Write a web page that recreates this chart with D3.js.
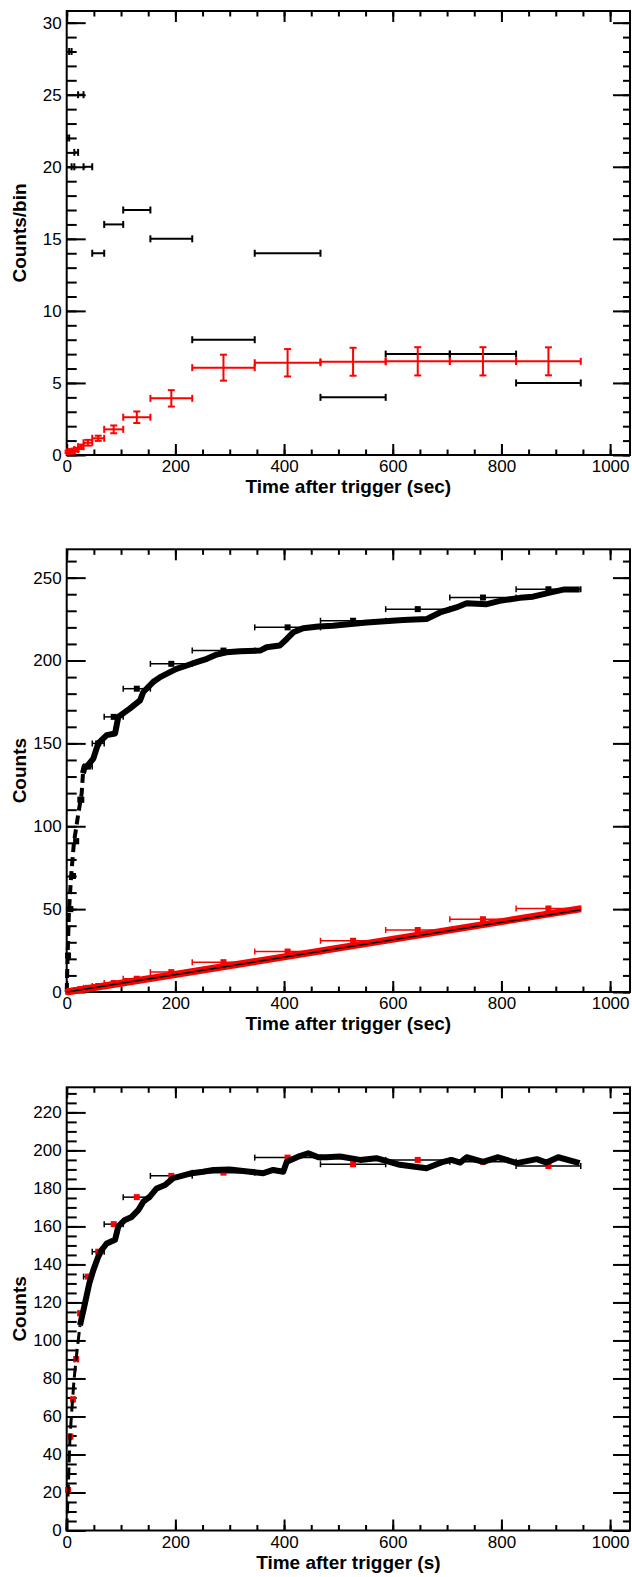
<!DOCTYPE html>
<html>
<head>
<meta charset="utf-8">
<script src="https://cdn.jsdelivr.net/npm/d3@7"></script>
<style>
  html, body { margin: 0; padding: 0; background: #fff; }
  svg { display: block; }
  text { font-family: "Liberation Sans", Arial, Helvetica, sans-serif; }
</style>
</head>
<body>
<svg id="chart" width="632" height="1577"></svg>
<script>
// ---------------- DATA ----------------
// time bin edges (s after trigger)
const binEdges = [0.5, 4.5, 9, 14, 21, 31, 47, 69, 104, 154, 231, 346, 467, 587, 705, 827, 946];
// panel 1: counts per bin
const srcCounts = [22, 28, 20, 21, 25, 20, 14, 16, 17, 15, 8, 14, 4, 7, 7, 5];
const bkgCounts = [0.22, 0.24, 0.27, 0.38, 0.57, 0.85, 1.16, 1.78, 2.62, 3.93, 6.06, 6.4, 6.47, 6.5, 6.5, 6.5];
const bkgErrors = [0.08, 0.09, 0.1, 0.12, 0.15, 0.2, 0.18, 0.27, 0.4, 0.57, 0.9, 0.95, 0.97, 0.98, 0.98, 0.97];
// panel 2: cumulative counts at bin centres
const srcCumulative = [22, 50, 70, 91, 116, 136, 150, 166, 183, 198, 206, 220, 224, 231, 238, 243];
const bkgCumulative = [0.2, 0.5, 0.7, 1.1, 1.6, 2.5, 3.6, 5.4, 8, 12, 18, 24.4, 30.9, 37.4, 43.9, 50.4];
// panel 2: cumulative source curve
const srcCurveT = [0, 1.8, 4.2, 8, 13.4, 21.4, 27.6, 30, 33, 37, 49, 58, 73.6, 89, 95, 116, 135, 141, 159, 172, 190, 202, 221, 239, 258, 276, 294, 319, 356, 368, 392, 405, 417, 435, 463, 490, 552, 619, 662, 687, 717, 736, 773, 797, 834, 858, 889, 914, 944];
const srcCurveV = [0, 23, 49, 69.5, 90.5, 107.6, 120, 132, 136, 136, 140.8, 150, 155, 156, 166, 171, 176, 181, 187, 190, 193, 195, 197, 199, 201, 203.6, 205, 205.6, 206, 208, 209, 213, 217, 219.5, 220.5, 221, 223, 224.5, 225, 229, 232, 234.5, 234, 236, 237.8, 238.5, 241, 242.8, 242.8];
// panel 2: cumulative background and linear fit
const bkgLineT = [0, 946];
const bkgLineV = [0, 50.2];
const fitLineV = [0, 49.6];
// panel 3: background-subtracted cumulative counts
const netCumulative = [21.3, 49.4, 69, 90.1, 114.3, 133.6, 146.7, 161.2, 175.4, 186.6, 188.3, 196.2, 192.7, 195, 194, 191.8];
const netCurveT = [0, 3, 6, 9, 13.4, 18.4, 24.5, 33.7, 41.6, 49, 58, 64.3, 73.6, 89, 95, 107, 119.6, 132, 141, 153, 165.6, 181, 196, 211.6, 230, 251, 270, 300, 337, 362, 380, 398.5, 405, 429, 444.5, 463, 478, 503, 540, 570, 613, 662, 693, 708, 724, 736, 766.5, 794, 828, 865, 883, 904.5, 944];
const netCurveV = [0, 23, 49, 61.7, 79, 93, 108, 119.6, 130, 137, 144, 147.6, 151, 153, 160, 163.4, 165, 168.7, 173, 175.7, 180, 181.8, 185.4, 186.6, 188, 188.8, 189.7, 190, 188.8, 188, 189.7, 188.8, 194, 197, 198.5, 196.4, 196.4, 196.8, 195, 195.9, 192.4, 190.6, 194, 195, 193.6, 196.4, 194, 196.4, 193.3, 195.4, 193.6, 196.4, 193.3];
// axis ticks
const xMajorTicks = [0, 200, 400, 600, 800, 1000];
const xMinorTicks = d3.range(0, 1001, 50);
const yMajorTicks1 = [0, 5, 10, 15, 20, 25, 30];
const yMinorTicks1 = d3.range(0, 31, 1);
const yMajorTicks2 = [0, 50, 100, 150, 200, 250];
const yMinorTicks2 = d3.range(0, 261, 10);
const yMajorTicks3 = [0, 20, 40, 60, 80, 100, 120, 140, 160, 180, 200, 220];
const yMinorTicks3 = d3.range(0, 231, 5);
const yTitles = ["Counts/bin", "Counts", "Counts"];
const xTitles = ["Time after trigger (sec)", "Time after trigger (sec)", "Time after trigger (s)"];

// ---------------- LAYOUT ----------------
const svg = d3.select("#chart");
const L = 66.7, R = 630;
const panels = [
  {top: 11, bottom: 455, ymax: 30.81, major: yMajorTicks1, minor: yMinorTicks1},
  {top: 549.3, bottom: 992, ymax: 267.1, major: yMajorTicks2, minor: yMinorTicks2},
  {top: 1087.3, bottom: 1530.5, ymax: 233.2, major: yMajorTicks3, minor: yMinorTicks3}
];
const x = d3.scaleLinear().domain([0, 1036.6]).range([L, R]);
const RED = "#ff0000";

function styleAxis(g) {
  g.select(".domain").remove();
  g.selectAll(".tick line").attr("stroke", "#000").attr("stroke-width", 2);
  g.selectAll("text").attr("font-size", 17).attr("fill", "#000")
    .attr("font-family", '"Liberation Sans", Arial, Helvetica, sans-serif');
}

panels.forEach((p, i) => {
  p.y = d3.scaleLinear().domain([0, p.ymax]).range([p.bottom, p.top]);
  const g = svg.append("g");
  p.g = g;
  const fmt = d3.format("d");
  // left
  g.append("g").attr("transform", `translate(${L},0)`)
    .call(d3.axisLeft(p.y).tickValues(p.minor).tickSize(-10).tickFormat("")).call(styleAxis);
  g.append("g").attr("transform", `translate(${L},0)`)
    .call(d3.axisLeft(p.y).tickValues(p.major).tickSize(-19).tickPadding(5).tickFormat(fmt)).call(styleAxis);
  // right
  g.append("g").attr("transform", `translate(${R},0)`)
    .call(d3.axisRight(p.y).tickValues(p.minor).tickSize(-7).tickFormat("")).call(styleAxis);
  g.append("g").attr("transform", `translate(${R},0)`)
    .call(d3.axisRight(p.y).tickValues(p.major).tickSize(-17).tickFormat("")).call(styleAxis);
  // bottom
  g.append("g").attr("transform", `translate(0,${p.bottom})`)
    .call(d3.axisBottom(x).tickValues(xMinorTicks).tickSize(-5.5).tickFormat("")).call(styleAxis);
  g.append("g").attr("transform", `translate(0,${p.bottom})`)
    .call(d3.axisBottom(x).tickValues(xMajorTicks).tickSize(-11).tickPadding(5).tickFormat(fmt)).call(styleAxis);
  // top
  g.append("g").attr("transform", `translate(0,${p.top})`)
    .call(d3.axisTop(x).tickValues(xMinorTicks).tickSize(-5.5).tickFormat("")).call(styleAxis);
  g.append("g").attr("transform", `translate(0,${p.top})`)
    .call(d3.axisTop(x).tickValues(xMajorTicks).tickSize(-11).tickFormat("")).call(styleAxis);
  // frame
  g.append("rect").attr("x", L).attr("y", p.top).attr("width", R - L).attr("height", p.bottom - p.top)
    .attr("fill", "none").attr("stroke", "#000").attr("stroke-width", 2);
  // titles
  g.append("text").attr("x", (L + R) / 2).attr("y", p.bottom + 38)
    .attr("text-anchor", "middle").attr("font-size", 19).attr("font-weight", "bold").text(xTitles[i]);
  g.append("text").attr("transform", `translate(26,${(p.top + p.bottom) / 2}) rotate(-90)`)
    .attr("text-anchor", "middle").attr("font-size", 19).attr("font-weight", "bold").text(yTitles[i]);
  p.plot = g.append("g");
});

const bins = srcCounts.map((c, i) => ({lo: binEdges[i], hi: binEdges[i + 1], mid: (binEdges[i] + binEdges[i + 1]) / 2, i}));

// horizontal error bar helper
function hbar(g, y, val, color, sw, cap) {
  g.selectAll(null).data(bins).enter().append("line")
    .attr("x1", d => x(d.lo)).attr("x2", d => x(d.hi))
    .attr("y1", d => y(val[d.i])).attr("y2", d => y(val[d.i]))
    .attr("stroke", color).attr("stroke-width", sw);
  ["lo", "hi"].forEach(k => {
    g.selectAll(null).data(bins).enter().append("line")
      .attr("x1", d => x(d[k])).attr("x2", d => x(d[k]))
      .attr("y1", d => y(val[d.i]) - cap / 2).attr("y2", d => y(val[d.i]) + cap / 2)
      .attr("stroke", color).attr("stroke-width", sw);
  });
}
function squares(g, y, val, color, s) {
  g.selectAll(null).data(bins).enter().append("rect")
    .attr("x", d => x(d.mid) - s / 2).attr("y", d => y(val[d.i]) - s / 2)
    .attr("width", s).attr("height", s).attr("fill", color);
}

// ---- Panel 1 ----
{
  const p = panels[0], g = p.plot, y = p.y;
  hbar(g, y, srcCounts, "#000", 2, 7);
  hbar(g, y, bkgCounts, RED, 2, 7);
  g.selectAll(null).data(bins).enter().append("line")
    .attr("x1", d => x(d.mid)).attr("x2", d => x(d.mid))
    .attr("y1", d => y(bkgCounts[d.i] - bkgErrors[d.i])).attr("y2", d => y(bkgCounts[d.i] + bkgErrors[d.i]))
    .attr("stroke", RED).attr("stroke-width", 2);
  [-1, 1].forEach(s => {
    g.selectAll(null).data(bins).enter().append("line")
      .attr("x1", d => x(d.mid) - 3.5).attr("x2", d => x(d.mid) + 3.5)
      .attr("y1", d => y(bkgCounts[d.i] + s * bkgErrors[d.i])).attr("y2", d => y(bkgCounts[d.i] + s * bkgErrors[d.i]))
      .attr("stroke", RED).attr("stroke-width", 2);
  });
}

// ---- Panel 2 ----
{
  const p = panels[1], g = p.plot, y = p.y;
  hbar(g, y, srcCumulative, "#000", 1.5, 6);
  squares(g, y, srcCumulative, "#000", 6);
  const line = d3.line().x(d => x(d[0])).y(d => y(d[1]));
  const pts = srcCurveT.map((t, i) => [t, srcCurveV[i]]);
  g.append("path").datum(pts.filter(d => d[0] <= 30)).attr("d", line)
    .attr("fill", "none").attr("stroke", "#000").attr("stroke-width", 4).attr("stroke-dasharray", "9,5");
  g.append("path").datum(pts.filter(d => d[0] >= 30)).attr("d", line)
    .attr("fill", "none").attr("stroke", "#000").attr("stroke-width", 6).attr("stroke-linejoin", "round");
  // background
  hbar(g, y, bkgCumulative, RED, 1.5, 6);
  squares(g, y, bkgCumulative, RED, 6);
  g.append("path").datum(bkgLineT.map((t, i) => [t, bkgLineV[i]])).attr("d", line)
    .attr("fill", "none").attr("stroke", RED).attr("stroke-width", 7);
  g.append("path").datum(bkgLineT.map((t, i) => [t, fitLineV[i]])).attr("d", line)
    .attr("fill", "none").attr("stroke", "#000").attr("stroke-width", 1.5);
}

// ---- Panel 3 ----
{
  const p = panels[2], g = p.plot, y = p.y;
  hbar(g, y, netCumulative, "#000", 1.5, 6);
  squares(g, y, netCumulative, RED, 6);
  const line = d3.line().x(d => x(d[0])).y(d => y(d[1]));
  const pts = netCurveT.map((t, i) => [t, netCurveV[i]]);
  g.append("path").datum(pts.filter(d => d[0] <= 25)).attr("d", line)
    .attr("fill", "none").attr("stroke", "#000").attr("stroke-width", 3).attr("stroke-dasharray", "12,5");
  g.append("path").datum(pts.filter(d => d[0] >= 24.5)).attr("d", line)
    .attr("fill", "none").attr("stroke", "#000").attr("stroke-width", 6).attr("stroke-linejoin", "round");
}
</script>
</body>
</html>
